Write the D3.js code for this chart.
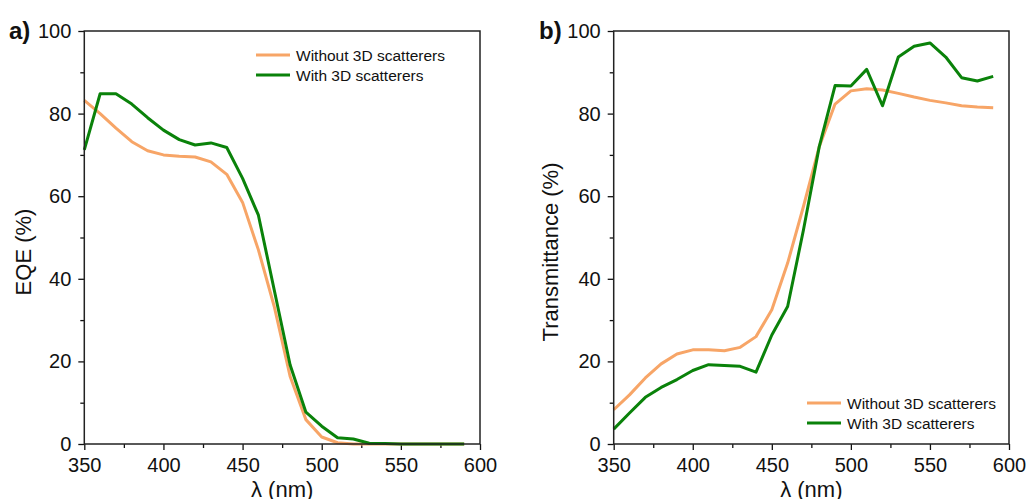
<!DOCTYPE html>
<html>
<head>
<meta charset="utf-8">
<script src="https://cdn.jsdelivr.net/npm/d3@7"></script>
<style>
  body { margin: 0; background: #fff; }
  svg { display: block; font-family: "Liberation Sans", Arial, sans-serif; }
</style>
</head>
<body>
<svg id="chart" width="1027" height="499"></svg>
<script>
// comprimentos de onda (nm)
const wavelengths = [350, 360, 370, 380, 390, 400, 410, 420, 430, 440, 450, 460, 470,
                     480, 490, 500, 510, 520, 530, 540, 550, 560, 570, 580, 590];

// painel a) EQE (%)
const eqeWithout = [83.2, 80, 76.5, 73.2, 71, 70, 69.7, 69.5, 68.3, 65.3, 58.5, 47, 33.3,
                    16.4, 5.9, 1.7, 0.3, 0, 0, 0, 0, 0, 0, 0, 0];
const eqeWith = [71.2, 84.8, 84.8, 82.3, 79, 76, 73.7, 72.4, 72.9, 71.8, 64.3, 55.4, 37.3,
                 19.2, 7.7, 4.3, 1.5, 1.2, 0.2, 0.1, 0, 0, 0, 0, 0];

// painel b) Transmitância (%)
const transWithout = [8.3, 11.9, 16, 19.4, 21.8, 22.8, 22.8, 22.6, 23.4, 26, 32.5, 43.8, 57.5,
                      72, 82.3, 85.5, 86, 85.7, 84.9, 84, 83.2, 82.6, 81.9, 81.6, 81.4];
const transWith = [3.6, 7.5, 11.3, 13.7, 15.6, 17.8, 19.2, 19, 18.8, 17.4, 26.4, 33.3, 51.8,
                   72, 86.8, 86.7, 90.7, 81.9, 93.7, 96.3, 97.1, 93.7, 88.7, 87.9, 89];

const seriesNames = ["Without 3D scatterers", "With 3D scatterers"];
const xTicks = [350, 400, 450, 500, 550, 600];
const yTicks = [0, 20, 40, 60, 80, 100];

const colors = ["#F7A567", "#0A820A"];
const svg = d3.select("#chart");

function drawPanel(cfg) {
  const x = d3.scaleLinear([350, 600], [cfg.left, cfg.right]);
  const y = d3.scaleLinear([0, 100], [444, 31]);
  const g = svg.append("g");

  // minor ticks
  g.append("g")
    .attr("transform", `translate(0,${y(0)})`)
    .call(d3.axisBottom(x).tickValues(d3.range(375, 600, 50)).tickSize(4).tickFormat(""))
    .call(a => a.select(".domain").remove());
  g.append("g")
    .attr("transform", `translate(${x(350)},0)`)
    .call(d3.axisLeft(y).tickValues(d3.range(10, 100, 20)).tickSize(4).tickFormat(""))
    .call(a => a.select(".domain").remove());

  // major ticks
  g.append("g")
    .attr("transform", `translate(0,${y(0)})`)
    .call(d3.axisBottom(x).tickValues(xTicks).tickSize(6).tickPadding(8))
    .call(a => a.select(".domain").remove())
    .selectAll("text").attr("font-size", 20).attr("fill", "#111").attr("font-family", null);
  g.append("g")
    .attr("transform", `translate(${x(350)},0)`)
    .call(d3.axisLeft(y).tickValues(yTicks).tickSize(6).tickPadding(7))
    .call(a => a.select(".domain").remove())
    .selectAll("text").attr("font-size", 20).attr("fill", "#111").attr("font-family", null);

  g.selectAll(".tick line").attr("stroke", "#111").attr("stroke-width", 1.3);

  // lines
  const line = d3.line().x((d, i) => x(wavelengths[i])).y(d => y(d));
  cfg.series.forEach((s, i) => {
    g.append("path")
      .datum(s)
      .attr("fill", "none")
      .attr("stroke", colors[i])
      .attr("stroke-width", 3)
      .attr("stroke-linejoin", "round")
      .attr("d", line);
  });

  // frame
  g.append("rect")
    .attr("x", x(350)).attr("y", y(100))
    .attr("width", x(600) - x(350)).attr("height", y(0) - y(100))
    .attr("fill", "none").attr("stroke", "#222").attr("stroke-width", 1.5);

  // axis titles
  g.append("text")
    .attr("x", (x(350) + x(600)) / 2).attr("y", 497)
    .attr("text-anchor", "middle").attr("font-size", 22).attr("fill", "#111")
    .text("λ (nm)");
  g.append("text")
    .attr("transform", `translate(${cfg.titleX},252) rotate(-90)`)
    .attr("text-anchor", "middle").attr("font-size", 22).attr("fill", "#111")
    .text(cfg.yTitle);

  // panel label
  g.append("text")
    .attr("x", cfg.labelX).attr("y", 39)
    .attr("font-size", 24).attr("font-weight", "bold").attr("fill", "#111")
    .text(cfg.label);

  // legend
  const leg = g.append("g").attr("transform", `translate(${cfg.legX},${cfg.legY})`);
  seriesNames.forEach((name, i) => {
    const row = leg.append("g").attr("transform", `translate(0,${i * 20})`);
    row.append("line").attr("x1", 0).attr("x2", 34).attr("y1", 0).attr("y2", 0)
      .attr("stroke", colors[i]).attr("stroke-width", 3);
    row.append("text").attr("x", 40).attr("y", 5.5)
      .attr("font-size", 15.5).attr("fill", "#111").text(name);
  });
}

drawPanel({
  left: 84.3, right: 480, series: [eqeWithout, eqeWith],
  yTitle: "EQE (%)", titleX: 31, label: "a)", labelX: 9,
  legX: 256, legY: 55
});
drawPanel({
  left: 613.7, right: 1009, series: [transWithout, transWith],
  yTitle: "Transmittance (%)", titleX: 558, label: "b)", labelX: 539,
  legX: 807, legY: 403
});
</script>
</body>
</html>
